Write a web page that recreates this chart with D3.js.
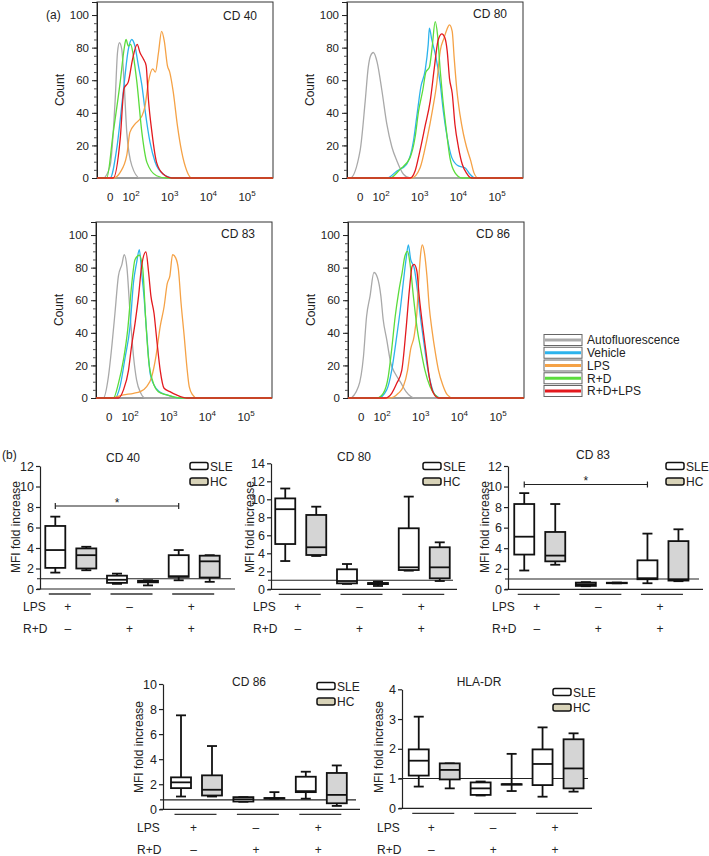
<!DOCTYPE html>
<html><head><meta charset="utf-8">
<script src="https://cdn.jsdelivr.net/npm/d3@7"></script>
<style>
body{margin:0;background:#fff}
svg{display:block}
text{font-family:Arial,"Liberation Sans",Helvetica,sans-serif;fill:#222}
</style>
</head><body>
<svg id="c" width="709" height="856"></svg>
<script>
// ---------------- DATA: (a) flow cytometry histograms ----------------
// x values are log10 fluorescence (decades), y values are counts
const histSeries = ["Autofluorescence", "Vehicle", "LPS", "R+D", "R+D+LPS"];
const histPanelNames = ["CD 40", "CD 80", "CD 83", "CD 86"];
const histYTicks = [0, 20, 40, 60, 80, 100];
const histXTickValues = [1.46, 2, 3, 4, 5];
const histXTickBase = ["0", "10", "10", "10", "10"];
const histXTickExp = ["", "2", "3", "4", "5"];

const cd40Auto = [[1.28,0],[1.46,7.6],[1.59,48],[1.65,77],[1.70,83],[1.76,79],[1.82,59],[1.89,28],[2.02,7.6],[2.23,0]];
const cd40Vehicle = [[1.46,0],[1.63,18],[1.80,53],[1.93,79],[2.02,85],[2.10,81],[2.19,69],[2.28,57],[2.36,42],[2.49,22],[2.62,10],[2.83,2.4],[3.09,0]];
const cd40LPS = [[1.54,0],[1.72,3.5],[1.89,14],[1.97,28],[2.10,33],[2.28,38],[2.36,44],[2.45,59],[2.56,67],[2.63,65],[2.71,77],[2.79,90],[2.86,84],[2.94,69],[3.00,65],[3.09,53],[3.20,32],[3.31,16],[3.44,4.5],[3.57,0]];
const cd40RD = [[1.37,0],[1.54,28],[1.72,59],[1.82,79],[1.87,85],[1.93,81],[1.99,82],[2.06,75],[2.15,59],[2.28,28],[2.41,9.6],[2.66,1.4],[2.92,0]];
const cd40RDLPS = [[1.54,0],[1.72,24],[1.82,55],[1.93,59],[2.04,73],[2.16,82],[2.23,77],[2.32,73],[2.39,69],[2.45,48],[2.54,28],[2.66,9.6],[2.83,2.4],[3.05,0]];

const cd80Auto = [[1.20,0],[1.46,17],[1.59,47],[1.67,68],[1.73,75],[1.80,77],[1.90,71],[2.02,54],[2.15,33],[2.28,19],[2.41,10.5],[2.58,2.3],[2.75,0]];
const cd80Vehicle = [[2.15,0],[2.41,4.3],[2.66,8.4],[2.84,23],[2.92,37],[3.03,56],[3.14,66],[3.22,82],[3.25,92],[3.31,85],[3.42,74],[3.53,58],[3.61,41],[3.71,25],[3.83,12.5],[4.00,7.4],[4.17,6.3],[4.30,2.3],[4.43,0]];
const cd80LPS = [[2.79,0],[3.01,6.3],[3.18,23],[3.34,43],[3.44,58],[3.53,78],[3.63,86],[3.70,91],[3.77,94],[3.84,90],[3.89,74],[3.96,54],[4.04,39],[4.13,27],[4.21,19],[4.32,10.5],[4.40,3.3],[4.51,0]];
const cd80RD = [[2.23,0],[2.49,5.3],[2.75,12.5],[2.88,25],[2.97,41],[3.08,54],[3.16,65],[3.25,68],[3.32,80],[3.40,96],[3.46,88],[3.53,66],[3.59,50],[3.68,31],[3.78,12.5],[3.91,3.3],[4.09,0]];
const cd80RDLPS = [[2.75,0],[2.88,4.3],[2.99,15],[3.14,32],[3.27,47],[3.38,68],[3.47,84],[3.57,88.5],[3.65,86],[3.71,78],[3.77,61],[3.84,52],[3.91,33],[4.00,19],[4.10,8.4],[4.21,3],[4.34,0]];

const cd83Auto = [[1.31,0],[1.44,13],[1.53,32],[1.61,52],[1.70,75],[1.79,82],[1.85,88],[1.92,80],[2.00,52],[2.09,25.5],[2.17,11],[2.28,2.9],[2.39,0]];
const cd83Vehicle = [[1.61,0],[1.74,7],[1.87,24.5],[2.00,44],[2.09,71],[2.17,83],[2.24,91],[2.30,77],[2.36,62.5],[2.43,40],[2.52,15],[2.62,8],[2.76,3.9],[2.95,1.9],[3.29,0]];
const cd83LPS = [[1.48,0],[1.83,1.9],[2.09,2.9],[2.26,3.9],[2.43,7],[2.56,13],[2.67,25.5],[2.78,44],[2.88,56],[2.96,70],[3.03,75],[3.10,88],[3.18,86],[3.25,79],[3.32,58],[3.40,38],[3.47,19],[3.53,7],[3.62,1.9],[3.72,0]];
const cd83RD = [[1.57,0],[1.70,9],[1.83,23.5],[1.94,42],[2.04,69],[2.13,85],[2.24,87.6],[2.33,79],[2.40,50],[2.48,23.5],[2.59,10],[2.73,3.9],[2.95,1.9],[3.29,0]];
const cd83RDLPS = [[1.70,0],[1.83,5],[1.96,17],[2.04,32],[2.13,46],[2.22,62.5],[2.30,81],[2.41,89.7],[2.48,77],[2.54,62.5],[2.62,52],[2.69,36],[2.78,17],[2.88,6],[3.03,3.9],[3.20,1.9],[3.47,0]];

const cd86Auto = [[1.17,0],[1.39,7],[1.52,25.5],[1.60,50],[1.69,62.5],[1.79,77],[1.88,74],[1.97,62.5],[2.03,48],[2.12,36],[2.23,21],[2.34,15],[2.47,10],[2.62,3.9],[2.85,0]];
const cd86Vehicle = [[1.90,0],[2.12,5],[2.25,17],[2.38,38],[2.47,54],[2.55,71],[2.62,85],[2.68,94],[2.74,85],[2.83,80],[2.91,67],[2.98,52],[3.07,36],[3.16,21],[3.26,9],[3.37,1.9],[3.54,0]];
const cd86LPS = [[2.21,0],[2.42,2.9],[2.55,7],[2.66,17],[2.74,30],[2.83,38],[2.90,52],[2.95,73],[3.00,89],[3.04,94],[3.09,90],[3.16,75],[3.22,56],[3.29,42],[3.38,27.6],[3.46,17],[3.57,8],[3.69,1.9],[3.83,0]];
const cd86RD = [[1.86,0],[2.03,2.9],[2.16,13],[2.25,30],[2.34,50],[2.43,65],[2.52,77],[2.59,87],[2.66,90],[2.72,83],[2.81,62.5],[2.90,44],[3.00,30],[3.11,17],[3.24,7],[3.37,1.9],[3.50,0]];
const cd86RDLPS = [[2.08,0],[2.25,2.9],[2.38,9],[2.51,17],[2.62,42],[2.71,67],[2.78,81],[2.83,82],[2.90,78],[2.96,62.5],[3.05,44],[3.14,27.6],[3.22,13],[3.33,2.9],[3.46,0]];

// ---------------- DATA: (b) box plots [min, q1, median, q3, max] ----------------
const boxGroupsLPS = ["+", "\u2013", "+"];
const boxGroupsRD = ["\u2013", "+", "+"];
const boxSeries = ["SLE", "HC"];

const cd40SLE = [[1.6,2.06,3.8,6.15,7.06],[0.5,0.6,0.9,1.3,1.5],[0.85,1.18,1.25,3.3,3.8]];
const cd40HC  = [[1.83,2.0,3.3,3.96,4.12],[0.35,0.65,0.75,0.8,0.85],[0.7,1.12,2.7,3.25,3.3]];
const cd80SLE = [[3.14,5.03,8.9,10.1,11.2],[0.6,0.66,0.92,2.22,2.81],[2.07,2.14,2.44,6.78,10.3]];
const cd80HC  = [[3.7,3.81,4.67,8.26,9.18],[0.37,0.58,0.65,0.7,0.85],[0.92,1.22,2.44,4.67,5.22]];
const cd83SLE = [[1.83,3.38,5.12,8.3,9.36],[0.3,0.33,0.49,0.65,0.7],[0.59,0.98,1.08,2.82,5.42]];
const cd83HC  = [[2.39,2.72,3.28,5.58,8.3],[0.58,0.6,0.62,0.64,0.66],[0.79,0.85,0.98,4.69,5.84]];
const cd86SLE = [[1.02,1.69,2.15,2.55,7.5],[0.6,0.62,0.8,0.97,0.97],[0.85,1.37,1.45,2.6,3.0]];
const cd86HC  = [[1.02,1.1,1.56,2.71,5.05],[0.85,0.88,0.88,0.9,1.37],[0.27,0.48,1.15,2.9,3.5]];
const hlaSLE  = [[0.73,1.1,1.6,1.98,3.08],[0.43,0.45,0.67,0.87,0.9],[0.39,0.78,1.49,1.98,2.72]];
const hlaHC   = [[0.67,0.97,1.29,1.51,1.51],[0.58,0.81,0.81,0.81,1.83],[0.56,0.67,1.34,2.32,2.52]];

// ---------------- STYLE / LAYOUT ----------------
const histColors = ["#a9a9a9", "#2cb3ec", "#f5a246", "#5bdc3c", "#e3191e"];
const histDrawOrder = [0, 1, 2, 3, 4];
const histDomain = [1.12, 5.67];
const FONT = 'Arial, "Liberation Sans", Helvetica, sans-serif';

const svg = d3.select("#c");

const histLayout = [
  {left: 97,  y0: 178, curves: [cd40Auto, cd40Vehicle, cd40LPS, cd40RD, cd40RDLPS], tx: 223, ty: 20},
  {left: 347, y0: 178, curves: [cd80Auto, cd80Vehicle, cd80LPS, cd80RD, cd80RDLPS], tx: 473, ty: 18},
  {left: 96,  y0: 398, curves: [cd83Auto, cd83Vehicle, cd83LPS, cd83RD, cd83RDLPS], tx: 221, ty: 238},
  {left: 348, y0: 398, curves: [cd86Auto, cd86Vehicle, cd86LPS, cd86RD, cd86RDLPS], tx: 476, ty: 238}
];

function histPanel(p, name) {
  const W = 176, H = 176;
  const g = svg.append("g");
  const x = d3.scaleLinear().domain(histDomain).range([p.left, p.left + W]);
  const y = d3.scaleLinear().domain([0, 108]).range([p.y0, p.y0 - H]);
  g.append("rect").attr("x", p.left).attr("y", y(108)).attr("width", W).attr("height", H)
    .attr("fill", "none").attr("stroke", "#333").attr("stroke-width", 1);
  const minor = g.append("g").attr("transform", `translate(${p.left},0)`)
    .call(d3.axisLeft(y).tickValues(d3.range(0, 101, 5)).tickSize(3).tickFormat(""));
  minor.select(".domain").remove();
  minor.selectAll("line").attr("stroke", "#555");
  const major = g.append("g").attr("transform", `translate(${p.left},0)`)
    .call(d3.axisLeft(y).tickValues(histYTicks).tickSize(5).tickPadding(3));
  major.select(".domain").attr("stroke", "#222");
  major.selectAll("line").attr("stroke", "#222");
  major.selectAll("text").attr("font-size", 11.5).attr("font-family", FONT).attr("fill", "#222");

  const line = d3.line().x(d => x(d[0])).y(d => y(d[1])).curve(d3.curveMonotoneX);
  histDrawOrder.forEach(i => {
    const pts = [[histDomain[0], 0]].concat(p.curves[i], [[histDomain[1], 0]]);
    g.append("path").attr("d", line(pts)).attr("fill", "none")
      .attr("stroke", histColors[i]).attr("stroke-width", 1.3).attr("stroke-linejoin", "round");
  });

  histXTickValues.forEach((v, i) => {
    const t = g.append("text").attr("x", x(v)).attr("y", p.y0 + 23)
      .attr("text-anchor", "middle").attr("font-size", 11.5);
    t.append("tspan").text(histXTickBase[i]);
    if (histXTickExp[i]) t.append("tspan").attr("font-size", 8).attr("dy", -5).text(histXTickExp[i]);
  });

  g.append("text").attr("x", p.tx).attr("y", p.ty).attr("font-size", 12).text(name);
  g.append("text").attr("transform", `translate(${p.left - 33},${(y(0) + y(108)) / 2}) rotate(-90)`)
    .attr("text-anchor", "middle").attr("font-size", 12).text("Count");
}

histLayout.forEach((p, i) => histPanel(p, histPanelNames[i]));

svg.append("text").attr("x", 46).attr("y", 19).attr("font-size", 12).text("(a)");

// legend for histograms
const histLegY = d3.scaleLinear().domain([0, 4]).range([340, 391]);
histSeries.forEach((s, i) => {
  const cy = histLegY(i);
  svg.append("rect").attr("x", 544).attr("y", cy - 5.5).attr("width", 38).attr("height", 11)
    .attr("fill", "#fff").attr("stroke", "#666").attr("stroke-width", 1);
  svg.append("line").attr("x1", 545).attr("x2", 581).attr("y1", cy).attr("y2", cy)
    .attr("stroke", histColors[i]).attr("stroke-width", 3);
  svg.append("text").attr("x", 587).attr("y", cy + 4.3).attr("font-size", 12).text(s);
});

// ---------------- (b) box plots ----------------
svg.append("text").attr("x", 2).attr("y", 459).attr("font-size", 12).text("(b)");

const boxLayout = [
  {name: "CD 40", axisX: 40, y0: 589, yTop: 466, yMax: 12, tick: 2, xEnd: 235, g0: 70.8, step: 61.7, ref: 1,
   labelX: 23, rows: [611, 633], title: [123, 462], ylab: [20, 527], leg: [190, 466], sle: cd40SLE, hc: cd40HC, sig: 8.1},
  {name: "CD 80", axisX: 271, y0: 589.3, yTop: 463.3, yMax: 14, tick: 2, xEnd: 457, g0: 300.75, step: 61.75, ref: 1,
   labelX: 253, rows: [611, 633], title: [354, 461], ylab: [254, 527], leg: [423, 466], sle: cd80SLE, hc: cd80HC, sig: null},
  {name: "CD 83", axisX: 508, y0: 589.3, yTop: 466, yMax: 12, tick: 2, xEnd: 703, g0: 539.75, step: 61.6, ref: 1,
   labelX: 492, rows: [611, 633], title: [593, 459], ylab: [489, 527], leg: [666, 466], sle: cd83SLE, hc: cd83HC, sig: 10.2},
  {name: "CD 86", axisX: 163, y0: 809.3, yTop: 684, yMax: 10, tick: 2, xEnd: 360, g0: 196.5, step: 62.4, ref: 0.75,
   labelX: 137, rows: [832, 854], title: [249, 686], ylab: [143, 747], leg: [317, 686], sle: cd86SLE, hc: cd86HC, sig: null},
  {name: "HLA-DR", axisX: 402, y0: 808.3, yTop: 689.3, yMax: 4, tick: 1, xEnd: 592, g0: 434.25, step: 61.9, ref: 1,
   labelX: 377, rows: [832, 854], title: [479, 686], ylab: [383, 747], leg: [553, 692], sle: hlaSLE, hc: hlaHC, sig: null}
];

const boxFill = {SLE: "#ffffff", HC: "#d5d5d5"};
const legFill = {SLE: "#ffffff", HC: "#d8d3b8"};

function boxPanel(p) {
  const g = svg.append("g");
  const y = d3.scaleLinear().domain([0, p.yMax]).range([p.y0, p.yTop]);
  const xg = d3.scaleLinear().domain([0, 2]).range([p.g0, p.g0 + 2 * p.step]);
  const sub = d3.scalePoint().domain(boxSeries).range([-15.5, 15.5]);

  const ax = g.append("g").attr("transform", `translate(${p.axisX},0)`)
    .call(d3.axisLeft(y).tickValues(d3.range(0, p.yMax + 1e-9, p.tick)).tickFormat(d3.format("~g"))
      .tickSize(4).tickSizeOuter(0).tickPadding(2));
  ax.select(".domain").attr("stroke", "#222").attr("stroke-width", 1.2);
  ax.selectAll(".tick line").attr("stroke", "#222").attr("stroke-width", 1.2);
  ax.selectAll("text").attr("font-size", 12.5).attr("font-family", FONT).attr("fill", "#222");

  g.append("line").attr("x1", p.axisX - 3).attr("x2", p.xEnd).attr("y1", y(0)).attr("y2", y(0))
    .attr("stroke", "#222").attr("stroke-width", 1.2);
  g.append("line").attr("x1", p.axisX - 3).attr("x2", p.xEnd - 4).attr("y1", y(p.ref)).attr("y2", y(p.ref))
    .attr("stroke", "#222").attr("stroke-width", 1.1);

  [["SLE", p.sle], ["HC", p.hc]].forEach(([s, data]) => {
    data.forEach((d, i) => {
      const cx = xg(i) + sub(s);
      const [mn, q1, md, q3, mx] = d;
      const L = (x1, y1, x2, y2) => g.append("line").attr("x1", x1).attr("y1", y1).attr("x2", x2).attr("y2", y2)
        .attr("stroke", "#111").attr("stroke-width", 1.8);
      L(cx, y(mx), cx, y(q3));
      L(cx, y(q1), cx, y(mn));
      L(cx - 5, y(mx), cx + 5, y(mx));
      L(cx - 5, y(mn), cx + 5, y(mn));
      g.append("rect").attr("x", cx - 10).attr("y", y(q3)).attr("width", 20).attr("height", Math.max(0.5, y(q1) - y(q3)))
        .attr("fill", boxFill[s]).attr("stroke", "#111").attr("stroke-width", 1.8);
      L(cx - 10, y(md), cx + 10, y(md));
    });
  });

  // group underlines and +/– labels
  [0, 1, 2].forEach(i => {
    const cx = xg(i) - 1;
    g.append("line").attr("x1", cx - 21).attr("x2", cx + 21).attr("y1", p.y0 + 5).attr("y2", p.y0 + 5)
      .attr("stroke", "#333").attr("stroke-width", 1.3);
    g.append("text").attr("x", xg(i) - 3).attr("y", p.rows[0]).attr("text-anchor", "middle").attr("font-size", 12).text(boxGroupsLPS[i]);
    g.append("text").attr("x", xg(i) - 3).attr("y", p.rows[1]).attr("text-anchor", "middle").attr("font-size", 12).text(boxGroupsRD[i]);
  });
  g.append("text").attr("x", p.labelX).attr("y", p.rows[0]).attr("font-size", 12).text("LPS");
  g.append("text").attr("x", p.labelX).attr("y", p.rows[1]).attr("font-size", 12).text("R+D");

  // title & axis label
  g.append("text").attr("x", p.title[0]).attr("y", p.title[1]).attr("text-anchor", "middle").attr("font-size", 12).text(p.name);
  g.append("text").attr("transform", `translate(${p.ylab[0]},${p.ylab[1]}) rotate(-90)`)
    .attr("text-anchor", "middle").attr("font-size", 12).text("MFI fold increase");

  // legend
  boxSeries.forEach((s, k) => {
    const ly = p.leg[1] + k * 15.5;
    g.append("rect").attr("x", p.leg[0]).attr("y", ly - 3.5).attr("width", 18).attr("height", 7).attr("rx", 2)
      .attr("fill", legFill[s]).attr("stroke", "#111").attr("stroke-width", 1.5);
    g.append("text").attr("x", p.leg[0] + 20).attr("y", ly + 4.5).attr("font-size", 12).text(s);
  });

  // significance bracket between SLE groups 1 and 3
  if (p.sig !== null) {
    const x1 = xg(0) + sub("SLE"), x2 = xg(2) + sub("SLE"), yy = y(p.sig);
    g.append("line").attr("x1", x1).attr("x2", x2).attr("y1", yy).attr("y2", yy).attr("stroke", "#222").attr("stroke-width", 1.2);
    [x1, x2].forEach(xx => g.append("line").attr("x1", xx).attr("x2", xx).attr("y1", yy - 3).attr("y2", yy + 3)
      .attr("stroke", "#222").attr("stroke-width", 1.2));
    g.append("text").attr("x", (x1 + x2) / 2).attr("y", yy + 1).attr("text-anchor", "middle").attr("font-size", 12).text("*");
  }
}

boxLayout.forEach(boxPanel);
</script>
</body></html>
